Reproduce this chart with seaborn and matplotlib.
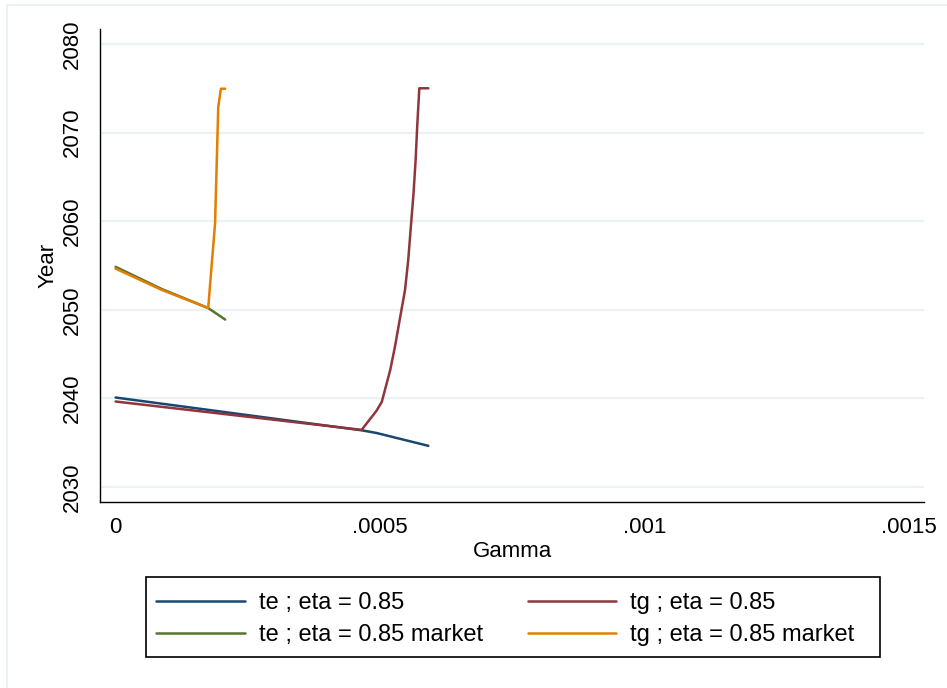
import matplotlib
matplotlib.use("Agg")
import matplotlib.pyplot as plt
import matplotlib.ticker as mticker
from matplotlib.patches import Rectangle
import pandas as pd
import seaborn as sns

# Transition year by gamma, for each scenario
gamma_te = [0, 0.000465, 0.000493, 0.000591]
year_te = [2040.1, 2036.4, 2036.1, 2034.65]

gamma_tg = [0, 0.000465, 0.000493, 0.000503, 0.000519, 0.000528, 0.000537,
            0.000547, 0.000553, 0.000558, 0.000563, 0.000567, 0.000570,
            0.000574, 0.000591]
year_tg = [2039.65, 2036.45, 2038.6, 2039.6, 2043.2, 2045.85, 2048.9,
           2052.25, 2055.6, 2059.4, 2063.1, 2066.9, 2070.7,
           2075.0, 2075.0]

gamma_te_mkt = [0, 0.000087, 0.000175, 0.000207]
year_te_mkt = [2054.85, 2052.35, 2050.2, 2048.9]

gamma_tg_mkt = [0, 0.000087, 0.000175, 0.000188, 0.000194, 0.000199, 0.000207]
year_tg_mkt = [2054.65, 2052.25, 2050.2, 2059.8, 2072.9, 2074.95, 2074.95]

series_names = ["te ; eta = 0.85", "tg ; eta = 0.85",
                "te ; eta = 0.85 market", "tg ; eta = 0.85 market"]
series_colors = ["#1a476f", "#90353b", "#55752f", "#e37e00"]

x_ticks = [0, 0.0005, 0.001, 0.0015]
x_tick_labels = ["0", ".0005", ".001", ".0015"]
y_ticks = [2030, 2040, 2050, 2060, 2070, 2080]

frames = []
for name, gx, gy in zip(series_names,
                        [gamma_te, gamma_tg, gamma_te_mkt, gamma_tg_mkt],
                        [year_te, year_tg, year_te_mkt, year_tg_mkt]):
    frames.append(pd.DataFrame({"Gamma": gx, "Year": gy, "series": name}))
df = pd.concat(frames, ignore_index=True)

sns.set_style("white")
plt.rcParams["font.family"] = ["Liberation Sans", "DejaVu Sans"]
plt.rcParams["text.color"] = "black"
plt.rcParams["axes.labelcolor"] = "black"

W, H = 947, 688
fig = plt.figure(figsize=(W / 100, H / 100), dpi=100)
ax = fig.add_axes([100 / W, 1 - 502 / H, 824 / W, 473 / H])

# faint outer frame of the graph region
fig.patches.append(Rectangle((7 / W, -0.1), 1.2, 1 - 5 / H + 0.1,
                             transform=fig.transFigure, fill=False,
                             edgecolor="#e8f0f1", linewidth=1.2, zorder=0))

lw = 1.8
sns.lineplot(data=df, x="Gamma", y="Year", hue="series",
             hue_order=series_names, palette=series_colors,
             estimator=None, sort=False, linewidth=lw, ax=ax, legend=True)

ax.set_xlim(-0.0000295, 0.0015278)
ax.set_ylim(2028.31, 2081.69)
ax.set_xticks(x_ticks)
ax.xaxis.set_major_formatter(mticker.FixedFormatter(x_tick_labels))
ax.set_yticks(y_ticks)
ax.grid(axis="y", color="#eaf2f3", linewidth=1.6)
ax.grid(axis="x", visible=False)
ax.set_axisbelow(True)

for side in ["top", "right"]:
    ax.spines[side].set_visible(False)
for side in ["left", "bottom"]:
    ax.spines[side].set_color("black")
    ax.spines[side].set_linewidth(1.0)

fs = 16
ax.tick_params(axis="both", direction="out", length=7, width=1.0,
               color="black", labelsize=fs, labelcolor="black")
ax.tick_params(axis="y", pad=5)
ax.tick_params(axis="x", pad=4)
for lab in ax.get_yticklabels():
    lab.set_rotation(90)
    lab.set_va("center")

ax.set_xlabel("Gamma", fontsize=fs, color="black")
ax.set_ylabel("Year", fontsize=fs, color="black")
ax.xaxis.set_label_coords(0.5, -0.1057)
ax.xaxis.label.set_va("center")
ax.yaxis.set_label_coords(-0.0631, 0.5)
ax.yaxis.label.set_va("center")

handles, labels = ax.get_legend_handles_labels()
ax.get_legend().remove()
order = [0, 2, 1, 3]
leg_fs = 17
leg = fig.legend([handles[i] for i in order], [labels[i] for i in order],
                 ncol=2, loc="upper left",
                 bbox_to_anchor=(156 / W, 1 - 592 / H),
                 fontsize=leg_fs, frameon=False,
                 handlelength=3.75, handletextpad=0.6, columnspacing=1.9,
                 labelspacing=0.42, borderpad=0, borderaxespad=0)
for t in leg.get_texts():
    t.set_color("black")
for h in leg.get_lines():
    h.set_linewidth(lw)

# legend box
fig.patches.append(Rectangle((146 / W, 1 - 657 / H), 734 / W, 80 / H,
                             transform=fig.transFigure, fill=False,
                             edgecolor="black", linewidth=1.2, zorder=3))

fig.savefig("out.png", dpi=100, facecolor="white")
